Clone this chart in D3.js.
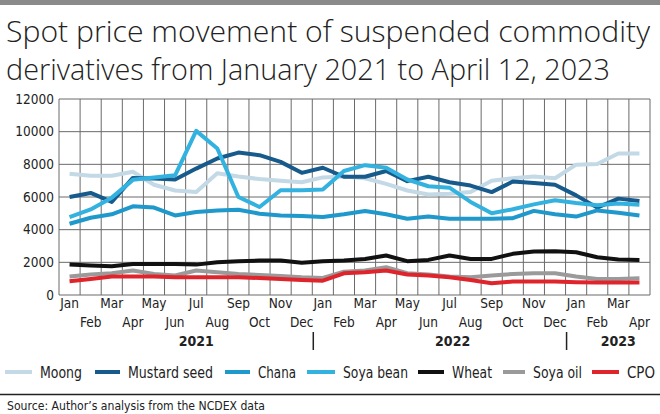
<!DOCTYPE html>
<html>
<head>
<meta charset="utf-8">
<script src="https://cdn.jsdelivr.net/npm/d3@7"></script>
<style>
  html, body { margin: 0; padding: 0; background: #fff; }
  svg { display: block; }
</style>
</head>
<body>
<svg id="chart" width="660" height="414"></svg>
<script>
const months = ["Jan","Feb","Mar","Apr","May","Jun","Jul","Aug","Sep","Oct","Nov","Dec",
                "Jan","Feb","Mar","Apr","May","Jun","Jul","Aug","Sep","Oct","Nov","Dec",
                "Jan","Feb","Mar","Apr"];
const years = ["2021", "2022", "2023"];
const yTicks = [0, 2000, 4000, 6000, 8000, 10000, 12000];

const moong      = [7430,7300,7300,7550,6750,6400,6300,7450,7250,7100,7000,6900,7200,7250,7150,6800,6400,6150,6200,6300,7000,7150,7250,7150,7980,8020,8660,8660];
const mustard    = [6000,6250,5700,7170,7130,7070,7740,8360,8720,8560,8150,7480,7790,7240,7240,7590,6970,7240,6900,6700,6300,6950,6850,6750,6100,5350,5900,5750];
const chana      = [4360,4730,4940,5430,5350,4870,5080,5180,5220,4980,4870,4830,4770,4940,5140,4940,4670,4810,4670,4670,4670,4700,5150,4950,4800,5180,5030,4870];
const soyabean   = [4770,5240,5960,7050,7190,7330,10050,8970,6000,5390,6410,6410,6460,7590,7950,7790,7070,6660,6570,5700,5000,5250,5550,5800,5630,5500,5600,5520];
const wheat      = [1860,1800,1760,1900,1900,1900,1860,2000,2070,2110,2110,1970,2070,2110,2210,2420,2070,2150,2420,2210,2210,2520,2660,2680,2620,2310,2170,2150];
const soyaoil    = [1130,1250,1330,1500,1290,1190,1500,1390,1290,1230,1170,1090,1040,1430,1500,1700,1330,1250,1130,1090,1190,1290,1330,1330,1130,980,980,1020];
const cpo        = [840,980,1130,1130,1130,1090,1090,1090,1090,1040,980,920,880,1330,1390,1500,1250,1190,1090,920,720,820,830,820,780,760,760,760];

const seriesNames  = ["Moong","Mustard seed","Chana","Soya bean","Wheat","Soya oil","CPO"];
const seriesColors = ["#c3d9e6","#175a8c","#1f98cc","#33b2e0","#111111","#9a9a9a","#e0242c"];
const seriesData   = [moong, mustard, chana, soyabean, wheat, soyaoil, cpo];

const condensed = "'Liberation Sans Narrow', 'DejaVu Sans Condensed', 'Roboto', sans-serif";
const svg = d3.select("#chart");

// top gray band
svg.append("rect").attr("x",0).attr("y",0).attr("width",660).attr("height",5).attr("fill","#8a8a8a");

// title
const title = svg.append("g").attr("font-family","'Open Sans', 'Lato', sans-serif")
  .attr("font-weight",300).attr("font-size",29.5).attr("fill","#222");
title.append("text").attr("x",6).attr("y",42).attr("textLength",644).attr("lengthAdjust","spacingAndGlyphs")
  .text("Spot price movement of suspended commodity");
title.append("text").attr("x",6).attr("y",80).attr("textLength",604).attr("lengthAdjust","spacingAndGlyphs")
  .text("derivatives from January 2021 to April 12, 2023");

const pLeft = 59, pRight = 650, pTop = 99, pBottom = 295;
const idx = d3.range(months.length);
const x = d3.scaleBand().domain(idx).range([pLeft, pRight]).padding(0);
const y = d3.scaleLinear().domain([0, 12000]).range([pBottom, pTop]);
const cx = i => x(i) + x.bandwidth() / 2;

// grid
const grid = svg.append("g").attr("stroke","#6a6a6a").attr("stroke-width",1);
idx.concat([months.length]).forEach(i => {
  const xx = i < months.length ? x(i) : pRight;
  grid.append("line").attr("x1",xx).attr("x2",xx).attr("y1",pTop).attr("y2",pBottom);
});
yTicks.forEach(t => {
  grid.append("line").attr("x1",pLeft).attr("x2",pRight).attr("y1",y(t)).attr("y2",y(t));
});

// y axis
const yAxis = d3.axisLeft(y).tickValues(yTicks).tickSize(0).tickPadding(5).tickFormat(d3.format("d"));
const yg = svg.append("g").attr("transform",`translate(${pLeft},0)`).call(yAxis);
yg.select(".domain").remove();
yg.selectAll("text").attr("font-family",condensed).attr("font-size",13.5).attr("fill","#222");

// lines
const line = d3.line().x((d,i) => cx(i)).y(d => y(d)).curve(d3.curveLinear);
[0,1,2,3,4,5,6].forEach(k => {
  svg.append("path").datum(seriesData[k]).attr("d", line)
    .attr("fill","none").attr("stroke",seriesColors[k]).attr("stroke-width",4)
    .attr("stroke-linejoin","round").attr("stroke-linecap","butt");
});

// x labels
const xl = svg.append("g").attr("font-family",condensed).attr("font-size",13.5).attr("fill","#222").attr("text-anchor","middle");
idx.forEach(i => {
  xl.append("text").attr("x",cx(i)).attr("y", i % 2 === 0 ? 308 : 327).text(months[i]);
});

// years
const yl = svg.append("g").attr("font-family",condensed).attr("font-size",14).attr("font-weight","bold").attr("fill","#222").attr("text-anchor","middle");
const yearCenters = [cx(6), x(18) + x.bandwidth()*0.65, cx(26)];
years.forEach((yr, j) => yl.append("text").attr("x", yearCenters[j]).attr("y", 346).text(yr));
[12, 24].forEach(i => {
  const xx = x(i) + 1;
  svg.append("line").attr("x1",xx).attr("x2",xx).attr("y1",332).attr("y2",350).attr("stroke","#222").attr("stroke-width",1.5);
});

// legend
const legendX   = [5, 95, 225, 307, 418, 503, 592];
const legendTx  = [40, 128, 258, 343, 452, 533, 627];
const legendTw  = [42, 85, 38, 65, 40, 49, 28];
const lg = svg.append("g").attr("font-family",condensed).attr("font-size",15).attr("fill","#222");
seriesNames.forEach((n, k) => {
  lg.append("line").attr("x1",legendX[k]).attr("x2",legendTx[k]-8).attr("y1",372).attr("y2",372)
    .attr("stroke",seriesColors[k]).attr("stroke-width",4);
  lg.append("text").attr("x",legendTx[k]).attr("y",378).attr("textLength",legendTw[k])
    .attr("lengthAdjust","spacingAndGlyphs").text(n);
});

// divider and source
svg.append("line").attr("x1",0).attr("x2",660).attr("y1",394.5).attr("y2",394.5).attr("stroke","#222").attr("stroke-width",1.5);
svg.append("text").attr("x",7).attr("y",410).attr("font-family",condensed).attr("font-size",12.5).attr("fill","#222")
  .attr("textLength",258).attr("lengthAdjust","spacingAndGlyphs")
  .text("Source: Author\u2019s analysis from the NCDEX data");
</script>
</body>
</html>
